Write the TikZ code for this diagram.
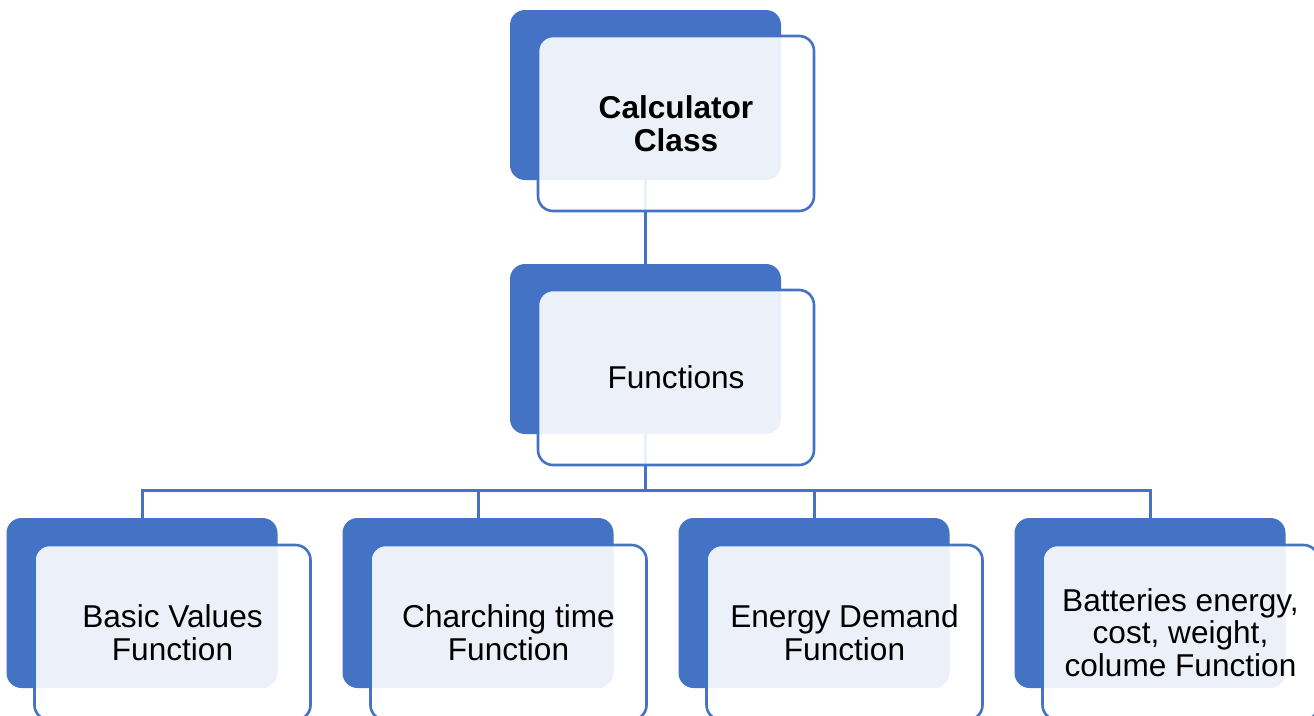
\documentclass[tikz,border=0pt]{standalone}
\usepackage{fontspec}
\setmainfont{Liberation Sans}
\definecolor{accent}{HTML}{4472C4}
\tikzset{
  backcard/.style={rectangle, rounded corners=15pt, fill=accent, draw=none,
    minimum width=271pt, minimum height=170pt, inner sep=0pt},
  frontcard/.style={rectangle, rounded corners=15pt, draw=accent, line width=2.6pt,
    fill=white, fill opacity=0.9, text opacity=1,
    minimum width=276pt, minimum height=175pt, inner sep=0pt,
    align=center, font=\fontsize{31.6}{32.8}\selectfont},
  link/.style={draw=accent, line width=3pt}
}
\begin{document}
\begin{tikzpicture}[x=1pt, y=-1pt]
  \useasboundingbox (0,0) rectangle (1314,715);
  \fill[white] (0,0) rectangle (1314,715);

  % back cards
  \node[backcard] (top) at (645.5,95) {};
  \node[backcard] (mid) at (645.5,349) {};
  \node[backcard] (b1) at (142,603) {};
  \node[backcard] (b2) at (478,603) {};
  \node[backcard] (b3) at (814,603) {};
  \node[backcard] (b4) at (1150,603) {};

  % connectors
  \coordinate (bus) at (645.5,490);
  \draw[link] (top.south) -- (mid.north);
  \draw[link] (mid.south) -- (bus);
  \foreach \b in {b1,b2,b3,b4}
    \draw[link] (bus) -| (\b.north);

  % front cards with the labels
  \node[frontcard, font=\fontsize{31.6}{32.8}\selectfont\bfseries] (topf) at (676,123.5) {Calculator\\Class};
  \node[frontcard] (midf) at (676,377.5) {Functions};
  \node[frontcard] (f1) at (172.5,632.5) {Basic Values\\Function};
  \node[frontcard] (f2) at (508.5,632.5) {Charching time\\Function};
  \node[frontcard] (f3) at (844.5,632.5) {Energy Demand\\Function};
  \node[frontcard] (f4) at (1180.5,632.5) {Batteries energy,\\cost, weight,\\colume Function};
\end{tikzpicture}
\end{document}
